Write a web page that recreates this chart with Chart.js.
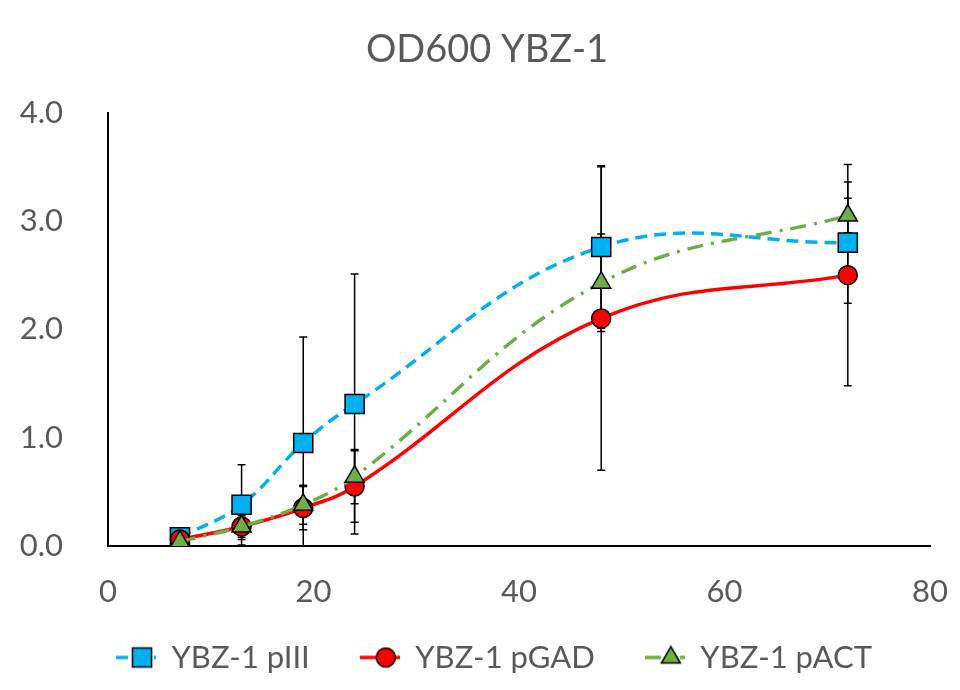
<!DOCTYPE html>
<html>
<head>
<meta charset="utf-8">
<script src="https://cdn.jsdelivr.net/npm/chart.js@4"></script>
<style>
  html, body { margin: 0; padding: 0; background: #fff; }
  #wrap { width: 960px; height: 690px; }
</style>
</head>
<body>
<div id="wrap"><canvas id="od-chart"></canvas></div>
<script>
// sampling times (h)
const hours = [7, 13, 19, 24, 48, 72];
const seriesNames = ['YBZ-1 pIII', 'YBZ-1 pGAD', 'YBZ-1 pACT'];

// OD600 means and standard deviations
const pIII = [0.08, 0.38, 0.95, 1.31, 2.76, 2.80];
const pIIIErr = [0.02, 0.37, 0.98, 1.20, 0.75, 0.56];
const pGAD = [0.06, 0.18, 0.35, 0.55, 2.10, 2.50];
const pGADErr = [0.02, 0.10, 0.20, 0.33, 1.40, 1.02];
const pACT = [0.04, 0.18, 0.38, 0.64, 2.43, 3.05];
const pACTErr = [0.02, 0.12, 0.18, 0.25, 0.45, 0.16];

const textColor = '#595959';
const fontFamily = 'Lato, "Open Sans", sans-serif';

function toPoints(values) {
  return values.map((v, i) => ({ x: hours[i], y: v }));
}

// draws a marker the same way as the chart does
function drawMarker(ctx, style, r, x, y) {
  ctx.beginPath();
  if (style === 'rect') {
    const s = r * Math.SQRT1_2;
    ctx.rect(x - s, y - s, 2 * s, 2 * s);
  } else if (style === 'circle') {
    ctx.arc(x, y, r, 0, Math.PI * 2);
  } else {
    ctx.moveTo(x, y - r);
    ctx.lineTo(x + Math.sin(Math.PI * 2 / 3) * r, y + r / 2);
    ctx.lineTo(x - Math.sin(Math.PI * 2 / 3) * r, y + r / 2);
    ctx.closePath();
  }
  ctx.fill();
  ctx.stroke();
}

// legend icon: short line with the marker on it
function legendIcon(ds) {
  const c = document.createElement('canvas');
  c.width = 80;
  c.height = 30;
  const g = c.getContext('2d');
  g.strokeStyle = ds.borderColor;
  g.lineWidth = ds.borderWidth;
  g.setLineDash(ds.borderDash || []);
  g.beginPath();
  g.moveTo(40, 15);
  g.lineTo(80, 15);
  g.stroke();
  g.setLineDash([]);
  g.fillStyle = ds.pointBackgroundColor;
  g.strokeStyle = '#000';
  g.lineWidth = 1.5;
  drawMarker(g, ds.pointStyle, ds.pointRadius, 66, 15);
  return c;
}

const errorBars = {
  id: 'errorBars',
  beforeDatasetsDraw(chart) {
    const { ctx, chartArea, scales: { x, y } } = chart;
    ctx.save();
    ctx.beginPath();
    ctx.rect(chartArea.left, chartArea.top - 5, chartArea.right - chartArea.left, chartArea.bottom - chartArea.top + 5);
    ctx.clip();
    ctx.strokeStyle = '#000';
    ctx.lineWidth = 1.5;
    chart.data.datasets.forEach((ds) => {
      ds.data.forEach((pt, i) => {
        const e = ds.errors[i];
        const px = x.getPixelForValue(pt.x);
        const top = y.getPixelForValue(pt.y + e);
        const bot = y.getPixelForValue(pt.y - e);
        ctx.beginPath();
        ctx.moveTo(px, top);
        ctx.lineTo(px, bot);
        ctx.moveTo(px - 4, top);
        ctx.lineTo(px + 4, top);
        ctx.moveTo(px - 4, bot);
        ctx.lineTo(px + 4, bot);
        ctx.stroke();
      });
    });
    ctx.restore();
  }
};

// the title sits a little right of the canvas centre
const titleShift = {
  id: 'titleShift',
  afterLayout(chart) {
    if (chart.titleBlock) {
      chart.titleBlock.left += 13;
      chart.titleBlock.right += 13;
    }
  }
};

const datasets = [
  {
    label: seriesNames[0],
    data: toPoints(pIII),
    errors: pIIIErr,
    borderColor: '#00B0F0',
    borderWidth: 3.5,
    borderDash: [12, 7],
    pointStyle: 'rect',
    pointRadius: 13.5,
    pointBackgroundColor: '#00B0F0',
    order: 3
  },
  {
    label: seriesNames[1],
    data: toPoints(pGAD),
    errors: pGADErr,
    borderColor: '#FF0000',
    borderWidth: 3.5,
    pointStyle: 'circle',
    pointRadius: 9.5,
    pointBackgroundColor: '#FF0000',
    order: 2
  },
  {
    label: seriesNames[2],
    data: toPoints(pACT),
    errors: pACTErr,
    borderColor: '#70AD47',
    borderWidth: 3.5,
    borderDash: [16, 8, 3, 8],
    pointStyle: 'triangle',
    pointRadius: 11,
    pointBackgroundColor: '#70AD47',
    order: 1
  }
];
datasets.forEach((ds) => {
  ds.pointBorderColor = '#000';
  ds.pointBorderWidth = 1.5;
  ds.showLine = true;
  ds.tension = 0.4;
  ds.fill = false;
});

new Chart(document.getElementById('od-chart'), {
  type: 'scatter',
  data: { datasets: datasets },
  options: {
    responsive: true,
    maintainAspectRatio: false,
    animation: false,
    layout: { padding: { left: 0, right: 12, top: 0, bottom: 7 } },
    plugins: {
      title: {
        display: true,
        text: 'OD600 YBZ-1',
        color: textColor,
        font: { family: fontFamily, size: 38, weight: 'normal' },
        padding: { top: 27, bottom: 40 }
      },
      legend: {
        position: 'bottom',
        labels: {
          usePointStyle: true,
          pointStyleWidth: 80,
          padding: 10,
          color: textColor,
          font: { family: fontFamily, size: 31 },
          sort: (a, b) => a.datasetIndex - b.datasetIndex,
          generateLabels(chart) {
            const items = Chart.defaults.plugins.legend.labels.generateLabels(chart);
            items.forEach((it) => {
              it.pointStyle = legendIcon(chart.data.datasets[it.datasetIndex]);
            });
            return items;
          }
        }
      },
      tooltip: { enabled: false }
    },
    scales: {
      x: {
        type: 'linear',
        min: 0,
        max: 80,
        afterFit(scale) {
          scale.height = 86;
          scale.paddingLeft = 0;
          scale.paddingRight = 30;
        },
        grid: { display: false, drawTicks: false },
        border: { display: true, color: '#000', width: 2 },
        ticks: {
          stepSize: 20,
          padding: 27,
          color: textColor,
          font: { family: fontFamily, size: 31 }
        }
      },
      y: {
        min: 0,
        max: 4,
        afterFit(scale) { scale.width = 108; },
        grid: { display: false, drawTicks: false },
        border: { display: true, color: '#000', width: 2 },
        ticks: {
          stepSize: 1,
          padding: 45,
          color: textColor,
          font: { family: fontFamily, size: 31 },
          callback: (v) => v.toFixed(1)
        }
      }
    }
  },
  plugins: [errorBars, titleShift]
});
</script>
</body>
</html>
